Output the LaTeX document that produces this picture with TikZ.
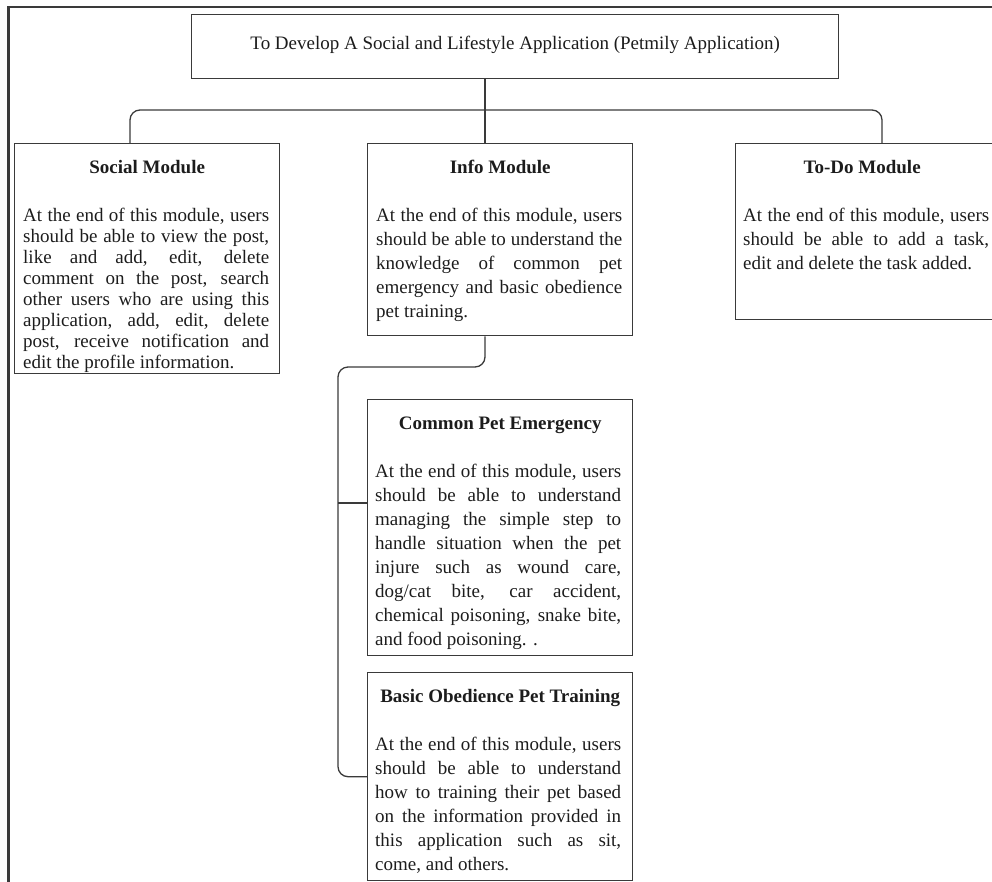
\documentclass[tikz,border=0pt]{standalone}
\usepackage{fontspec}
\setmainfont{Liberation Serif}
\begin{document}
% loose justification with forced line ends, no hyphenation
\tolerance=10000
\hbadness=10000
\hyphenpenalty=10000
\definecolor{inkc}{HTML}{1C1C1C}
\definecolor{linec}{HTML}{3A3A3A}
\begin{tikzpicture}[x=1pt,y=-1pt,
  box/.style={draw=linec, line width=1.4pt, inner sep=0pt, anchor=north west},
  ttl/.style={anchor=base, inner sep=0pt, text=inkc, font=\fontsize{19pt}{24pt}\selectfont\bfseries},
  body/.style={anchor=base west, inner sep=0pt, text=inkc, text width=246pt, align=justify,
    font=\fontsize{19pt}{24pt}\selectfont},
  tightbody/.style={body, font=\fontsize{19pt}{21pt}\selectfont},
  conn/.style={draw=linec, line width=1.3pt, rounded corners=10pt},
  frame/.style={draw=linec, line width=2.4pt}]
\useasboundingbox (0,0) rectangle (992,881);
\clip (0,0) rectangle (992,881);

% outer page frame
\draw[frame] (8.5,7) rectangle (1020,920);

% main goal
\node[box, minimum width=647pt, minimum height=64pt] (goal) at (191,14) {};
\node[anchor=base, inner sep=0pt, text=inkc, font=\fontsize{19pt}{24pt}\selectfont] (goalT)
  at ([yshift=-35pt]goal.north) {To Develop A Social and Lifestyle Application (Petmily Application)};

% modules
\node[box, minimum width=265pt, minimum height=230pt] (social) at (14,143) {};
\node[box, minimum width=265pt, minimum height=192pt] (info) at (367,143) {};
\node[box, minimum width=265pt, minimum height=176pt] (todo) at (735,143) {};
\node[box, minimum width=265pt, minimum height=256pt] (common) at (367,399) {};
\node[box, minimum width=265pt, minimum height=208pt] (basic) at (367,672) {};

\node[ttl] (socialT) at ([yshift=-30pt]social.north) {Social Module};
\node[ttl] (infoT) at ([yshift=-30pt]info.north) {Info Module};
\node[ttl] (todoT) at ([xshift=-6pt,yshift=-30pt]todo.north) {To-Do Module};
\node[ttl] (commonT) at ([yshift=-30pt]common.north) {Common Pet Emergency};
\node[ttl] (basicT) at ([yshift=-30pt]basic.north) {Basic Obedience Pet Training};

\node[tightbody] (socialB) at ([xshift=9pt,yshift=-78pt]social.north west) {%
At the end of this module, users\linebreak
should be able to view the post,\linebreak
like and add, edit, delete\linebreak
comment on the post, search\linebreak
other users who are using this\linebreak
application, add, edit, delete\linebreak
post, receive notification and\linebreak
edit the profile information.};

\node[body] (infoB) at ([xshift=9pt,yshift=-78pt]info.north west) {%
At the end of this module, users\linebreak
should be able to understand the\linebreak
knowledge of common pet\linebreak
emergency and basic obedience\linebreak
pet training.};

\node[body] (todoB) at ([xshift=8pt,yshift=-78pt]todo.north west) {%
At the end of this module, users\linebreak
should be able to add a task,\linebreak
edit and delete the task added.};

\node[body] (commonB) at ([xshift=8pt,yshift=-78pt]common.north west) {%
At the end of this module, users\linebreak
should be able to understand\linebreak
managing the simple step to\linebreak
handle situation when the pet\linebreak
injure such as wound care,\linebreak
dog/cat bite, car accident,\linebreak
chemical poisoning, snake bite,\linebreak
and food poisoning. .};

\node[body] (basicB) at ([xshift=8pt,yshift=-78pt]basic.north west) {%
At the end of this module, users\linebreak
should be able to understand\linebreak
how to training their pet based\linebreak
on the information provided in\linebreak
this application such as sit,\linebreak
come, and others.};

% connector routing points
\coordinate (stem) at (485,110);
\coordinate (busL) at (130,110);
\coordinate (busR) at (882,110);
\coordinate (turn) at (485,367);
\coordinate (spine) at (338,367);
\coordinate (tapC) at (338,503);

% goal to modules
\draw[conn] (goal.south -| stem) -- (info.north -| stem);
\draw[conn] (social.north -| busL) -- (busL) -- (busR) -- (todo.north -| busR);

% info module to its sub-modules
\draw[conn] (info.south -| turn) -- (turn) -- (spine) -- (spine |- basic.west) -- (basic.west);
\draw[conn] (tapC) -- (tapC -| common.west);
\end{tikzpicture}
\end{document}
